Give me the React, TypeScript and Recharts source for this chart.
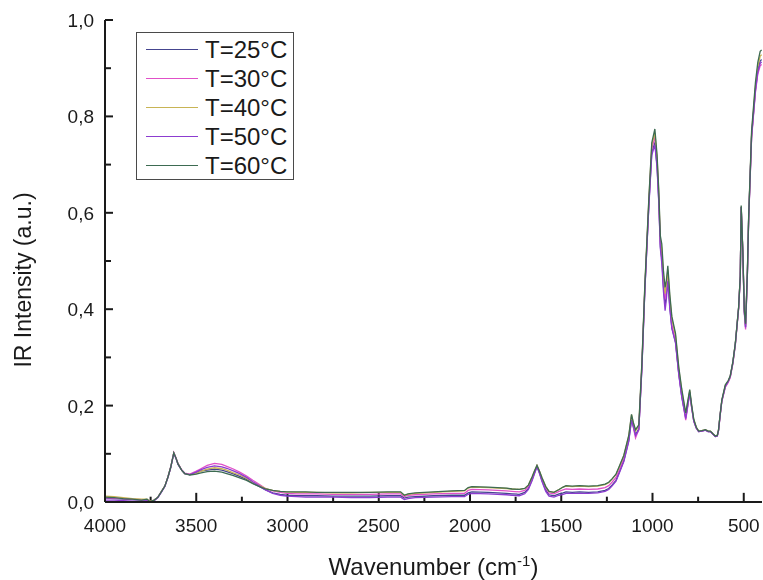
import React from 'react';
import { LineChart, Line, XAxis, YAxis, Legend, ReferenceLine } from 'recharts';

const wavenumbers = [
  4000, 3950, 3900, 3850, 3800, 3770, 3755, 3730, 3710, 3690,
  3672, 3655, 3640, 3623, 3610, 3600, 3580, 3563, 3535, 3500,
  3480, 3440, 3400, 3360, 3333, 3300, 3262, 3224, 3190, 3153,
  3120, 3081, 3040, 3005, 2950, 2900, 2840, 2750, 2650, 2550,
  2450, 2380, 2360, 2340, 2300, 2200, 2100, 2030, 2010, 1990,
  1900, 1800, 1770, 1730, 1700, 1680, 1660, 1645, 1633, 1620,
  1605, 1585, 1567, 1540, 1512, 1490, 1474, 1440, 1400, 1350,
  1300, 1260, 1240, 1222, 1200, 1184, 1157, 1130, 1115, 1105,
  1093, 1075, 1058, 1042, 1020, 1004, 987, 975, 966, 957,
  949, 940, 931, 924, 916, 905, 894, 874, 856, 840,
  818, 796, 785, 774, 760, 747, 730, 710, 695, 683,
  670, 656, 645, 638, 630, 620, 601, 585, 574, 560,
  546, 528, 519, 514, 505, 497, 490, 480, 473, 457,
  436, 423, 410, 402,
];

const t25 = [
  .008, .007, .006, .005, .004, .005, .001, .004, .010, .022,
  .033, .052, .072, .102, .090, .079, .066, .059, .057, .061,
  .064, .066, .068, .066, .063, .059, .053, .047, .039, .032,
  .025, .019, .016, .014, .013, .013, .013, .012, .012, .012,
  .013, .013, .008, .010, .011, .013, .014, .014, .019, .021,
  .020, .018, .017, .016, .020, .028, .046, .062, .074, .061,
  .044, .025, .015, .013, .017, .019, .021, .020, .021, .020,
  .021, .024, .028, .035, .045, .060, .086, .128, .172, .158,
  .140, .152, .280, .440, .616, .725, .746, .697, .628, .530,
  .505, .447, .408, .430, .465, .405, .362, .332, .266, .220,
  .175, .228, .196, .169, .154, .146, .147, .149, .146, .146,
  .141, .136, .137, .149, .178, .210, .240, .250, .260, .288,
  .328, .403, .468, .612, .516, .395, .363, .475, .590, .760,
  .856, .896, .915, .918,
];

const t30 = [
  .009, .008, .007, .006, .005, .005, .001, .004, .010, .022,
  .033, .052, .072, .103, .091, .080, .067, .060, .058, .064,
  .068, .076, .080, .078, .074, .069, .062, .054, .045, .036,
  .028, .023, .020, .018, .017, .017, .017, .016, .016, .016,
  .017, .017, .011, .014, .015, .017, .018, .018, .024, .026,
  .025, .023, .022, .021, .024, .032, .049, .064, .075, .063,
  .047, .029, .019, .017, .022, .025, .027, .026, .027, .026,
  .027, .030, .034, .041, .051, .065, .091, .133, .176, .155,
  .133, .150, .282, .442, .620, .732, .757, .706, .636, .537,
  .515, .457, .420, .438, .472, .412, .368, .335, .268, .222,
  .170, .226, .194, .168, .153, .146, .147, .149, .146, .146,
  .141, .136, .137, .148, .177, .209, .238, .248, .258, .286,
  .326, .401, .466, .610, .514, .392, .358, .472, .586, .755,
  .850, .888, .905, .908,
];

const t40 = [
  .012, .011, .009, .007, .006, .006, .002, .004, .010, .022,
  .033, .052, .072, .102, .090, .079, .066, .059, .057, .060,
  .063, .068, .071, .069, .066, .061, .056, .049, .041, .034,
  .028, .024, .022, .021, .020, .020, .020, .019, .019, .020,
  .020, .020, .014, .016, .018, .020, .022, .023, .029, .031,
  .030, .028, .027, .026, .028, .035, .052, .066, .076, .065,
  .050, .032, .022, .020, .026, .031, .033, .032, .033, .032,
  .033, .036, .040, .047, .057, .071, .096, .137, .181, .163,
  .147, .158, .288, .448, .627, .740, .766, .714, .643, .545,
  .525, .468, .432, .450, .482, .423, .380, .345, .276, .231,
  .182, .231, .198, .171, .155, .147, .148, .150, .147, .147,
  .142, .137, .138, .150, .179, .211, .242, .251, .261, .289,
  .329, .404, .469, .613, .518, .398, .367, .478, .592, .765,
  .862, .903, .925, .928,
];

const t50 = [
  .004, .004, .003, .002, .002, .003, .000, .003, .009, .021,
  .032, .051, .071, .101, .089, .078, .066, .059, .057, .062,
  .066, .072, .075, .073, .070, .065, .059, .051, .042, .033,
  .025, .018, .014, .012, .011, .010, .010, .010, .009, .009,
  .010, .010, .005, .007, .009, .010, .011, .011, .016, .018,
  .017, .015, .014, .013, .017, .026, .044, .060, .073, .060,
  .042, .022, .012, .010, .014, .016, .018, .018, .018, .018,
  .019, .022, .026, .033, .043, .058, .084, .126, .170, .156,
  .138, .150, .278, .438, .613, .720, .741, .693, .624, .526,
  .495, .437, .397, .420, .458, .400, .360, .330, .264, .218,
  .173, .227, .195, .168, .153, .146, .147, .149, .146, .146,
  .141, .136, .137, .149, .178, .210, .240, .250, .260, .288,
  .328, .403, .468, .612, .516, .395, .362, .474, .589, .758,
  .853, .892, .910, .913,
];

const t60 = [
  .010, .009, .007, .006, .004, .006, .001, .004, .010, .022,
  .033, .052, .072, .102, .090, .079, .066, .059, .056, .058,
  .060, .063, .064, .062, .059, .055, .050, .045, .038, .032,
  .027, .024, .022, .021, .021, .021, .020, .020, .020, .020,
  .021, .021, .014, .017, .019, .021, .023, .024, .030, .032,
  .031, .029, .027, .026, .028, .035, .052, .066, .076, .065,
  .050, .032, .022, .020, .026, .031, .034, .033, .034, .033,
  .034, .037, .041, .048, .058, .072, .097, .138, .182, .165,
  .150, .160, .290, .450, .630, .745, .774, .720, .650, .552,
  .535, .480, .445, .460, .490, .430, .385, .350, .280, .235,
  .185, .233, .200, .172, .155, .147, .148, .150, .147, .147,
  .142, .137, .138, .150, .180, .212, .243, .252, .262, .290,
  .330, .405, .470, .615, .520, .400, .370, .480, .594, .770,
  .870, .912, .935, .938,
];

const seriesNames = ['T=25°C', 'T=30°C', 'T=40°C', 'T=50°C', 'T=60°C'];
const seriesValues = [t25, t30, t40, t50, t60];
const seriesColors = ['#45458f', '#e050c8', '#c8b455', '#8c3cd0', '#3d6b52'];

const xTicks = [4000, 3750, 3500, 3250, 3000, 2750, 2500, 2250, 2000, 1750, 1500, 1250, 1000, 750, 500];
const xLabeled = [4000, 3500, 3000, 2500, 2000, 1500, 1000, 500];
const yTicks = [0, 0.1, 0.2, 0.3, 0.4, 0.5, 0.6, 0.7, 0.8, 0.9, 1.0];
const yLabeled = ['0,0', '', '0,2', '', '0,4', '', '0,6', '', '0,8', '', '1,0'];

const X_MIN = 400;
const X_MAX = 4000;
// tick mark lengths expressed in axis units (inward ticks)
const X_TICK_MAJOR = 0.019;
const X_TICK_MINOR = 0.011;
const Y_TICK_MAJOR = 44;
const Y_TICK_MINOR = 33;

const data = wavenumbers.map((w, i) => {
  const row: Record<string, number> = { w };
  seriesValues.forEach((vals, k) => {
    row['s' + k] = vals[i];
  });
  return row;
});

const FONT = '"Liberation Sans", Arial, Helvetica, sans-serif';
const INK = '#1a1a1a';

const XTick = (props: any) => {
  const x = Number(props.x);
  const y = Number(props.y);
  const v = props.payload.value;
  if (!xLabeled.includes(v)) return <g />;
  return (
    <text x={x} y={y + 30} textAnchor="middle" fontSize={19} fontFamily={FONT} fill={INK}>
      {v}
    </text>
  );
};

const YTick = (props: any) => {
  const x = Number(props.x);
  const y = Number(props.y);
  const label = yLabeled[props.index] ?? '';
  if (!label) return <g />;
  return (
    <text x={x - 11} y={y + 7} textAnchor="end" fontSize={19} fontFamily={FONT} fill={INK}>
      {label}
    </text>
  );
};

const XLabel = (props: any) => {
  const vb = props.viewBox;
  return (
    <text x={vb.x + vb.width / 2} y={vb.y + 73} textAnchor="middle" fontSize={24} fontFamily={FONT} fill={INK}>
      Wavenumber (cm
      <tspan dy={-9} fontSize={15}>-1</tspan>
      <tspan dy={9}>)</tspan>
    </text>
  );
};

const YLabel = (props: any) => {
  const vb = props.viewBox;
  const cx = vb.x + 23;
  const cy = vb.y + vb.height / 2 + 19;
  return (
    <text
      x={cx}
      y={cy}
      transform={`rotate(-90 ${cx} ${cy})`}
      textAnchor="middle"
      fontSize={23}
      fontFamily={FONT}
      fill={INK}
    >
      IR Intensity (a.u.)
    </text>
  );
};

const LegendBox = () => (
  <div
    style={{
      boxSizing: 'border-box',
      width: 158,
      height: 148,
      border: '1.5px solid #4a4a4a',
      background: '#fff',
      paddingTop: 2,
      fontFamily: FONT,
    }}
  >
    {seriesNames.map((name, k) => (
      <div key={name} style={{ display: 'flex', alignItems: 'center', height: 29 }}>
        <div style={{ marginLeft: 9, width: 52, borderTop: `1.2px solid ${seriesColors[k]}` }} />
        <span style={{ marginLeft: 7, fontSize: 24, color: INK, lineHeight: '29px' }}>{name}</span>
      </div>
    ))}
  </div>
);

export default function App() {
  return (
    <div style={{ position: 'fixed', left: 8, top: 8, width: 755, height: 572 }}>
      <LineChart width={755} height={572} data={data} margin={{ top: 12, right: 1, bottom: 0, left: 0 }}>
        <XAxis
          dataKey="w"
          type="number"
          domain={[X_MIN, X_MAX]}
          reversed
          allowDataOverflow
          ticks={xTicks}
          interval={0}
          tick={XTick}
          tickLine={false}
          tickSize={0}
          tickMargin={0}
          height={78}
          axisLine={{ stroke: INK, strokeWidth: 2 }}
          label={XLabel}
        />
        <XAxis
          xAxisId="top"
          orientation="top"
          type="number"
          domain={[X_MIN, X_MAX]}
          reversed
          tick={false}
          tickLine={false}
          height={0}
          axisLine={{ stroke: '#333', strokeWidth: 2 }}
        />
        <YAxis
          type="number"
          domain={[0, 1]}
          ticks={yTicks}
          interval={0}
          tick={YTick}
          tickLine={false}
          tickSize={0}
          tickMargin={0}
          width={97}
          axisLine={{ stroke: INK, strokeWidth: 2 }}
          label={YLabel}
        />
        <YAxis
          yAxisId="right"
          orientation="right"
          type="number"
          domain={[0, 1]}
          tick={false}
          tickLine={false}
          width={0}
          axisLine={{ stroke: '#999', strokeWidth: 1.5 }}
        />
        {xTicks.map((w) => (
          <ReferenceLine
            key={'xt' + w}
            segment={[
              { x: w, y: 0 },
              { x: w, y: xLabeled.includes(w) ? X_TICK_MAJOR : X_TICK_MINOR },
            ]}
            stroke={INK}
            strokeWidth={2}
            ifOverflow="visible"
          />
        ))}
        {yTicks.map((v, i) => (
          <ReferenceLine
            key={'yt' + i}
            segment={[
              { x: X_MAX, y: v },
              { x: X_MAX - (yLabeled[i] ? Y_TICK_MAJOR : Y_TICK_MINOR), y: v },
            ]}
            stroke={INK}
            strokeWidth={2}
            ifOverflow="visible"
          />
        ))}
        <Legend
          layout="vertical"
          align="center"
          verticalAlign="middle"
          content={<LegendBox />}
          wrapperStyle={{ left: 128, top: 24, width: 'auto', height: 'auto' }}
        />
        {seriesNames.map((name, k) => (
          <Line
            key={name}
            dataKey={'s' + k}
            name={name}
            type="linear"
            stroke={seriesColors[k]}
            strokeWidth={1.3}
            dot={false}
            activeDot={false}
            isAnimationActive={false}
          />
        ))}
      </LineChart>
    </div>
  );
}
